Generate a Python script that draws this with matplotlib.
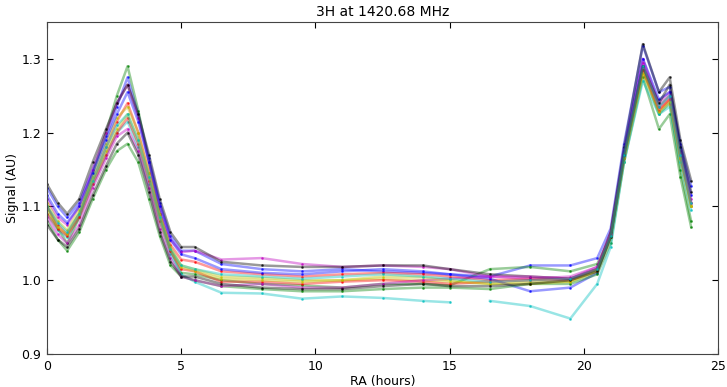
import numpy as np
import matplotlib
matplotlib.use("Agg")
import matplotlib.pyplot as plt

nan = np.nan
ra = [0.0, 0.4, 0.75, 1.2, 1.7, 2.2, 2.6, 3.0, 3.4, 3.8, 4.2, 4.6, 5.0, 5.5, 6.5, 8.0,
      9.5, 11.0, 12.5, 14.0, 15.0, 16.5, 18.0, 19.5, 20.5, 21.0, 21.5, 22.2, 22.8, 23.2, 23.6, 24.0]

s_b1 = [1.125,1.100,1.085,1.105,1.150,1.195,1.235,1.275,1.225,1.165,1.105,1.060,1.040,1.040,1.022,1.015,1.012,1.015,1.012,1.010,1.008,1.005,1.020,1.020,1.030,1.070,1.185,1.318,1.255,1.262,1.185,1.128]
s_g1 = [1.100,1.070,1.050,1.085,1.145,1.200,1.250,1.290,1.230,1.160,1.090,1.040,1.010,1.008,1.000,0.995,0.993,0.990,0.995,0.995,0.993,1.015,1.018,1.012,1.022,1.060,1.165,1.285,1.225,1.240,1.150,1.080]
s_r1 = [1.100,1.075,1.062,1.090,1.135,1.180,1.215,1.240,1.200,1.145,1.090,1.048,1.028,1.025,1.012,1.008,1.005,1.008,1.010,1.008,1.005,1.000,1.002,1.000,1.015,1.060,1.170,1.290,1.230,1.245,1.170,1.100]
s_c1 = [1.090,1.068,1.058,1.085,1.130,1.170,1.200,1.215,1.180,1.130,1.080,1.035,1.008,0.998,0.983,0.982,0.975,0.978,0.976,0.972,0.970,nan,nan,nan,nan,nan,nan,nan,nan,nan,nan,nan]
s_m1 = [1.110,1.085,1.075,1.100,1.150,1.200,1.240,1.265,1.220,1.160,1.100,1.055,1.038,1.040,1.028,1.030,1.022,1.018,1.020,1.018,1.015,1.005,1.002,1.005,1.018,1.065,1.175,1.300,1.240,1.255,1.175,1.110]
s_y1 = [1.105,1.080,1.068,1.095,1.140,1.185,1.220,1.235,1.200,1.145,1.090,1.045,1.020,1.015,1.005,1.003,1.000,1.000,1.002,1.000,0.998,0.995,0.998,0.998,1.012,1.060,1.170,1.285,1.235,1.250,1.170,1.100]
s_k1 = [1.130,1.105,1.090,1.110,1.160,1.205,1.240,1.265,1.225,1.170,1.110,1.065,1.045,1.045,1.025,1.020,1.018,1.018,1.020,1.020,1.015,1.008,1.005,1.002,1.015,1.065,1.180,1.320,1.255,1.275,1.190,1.135]
s_b2 = [1.115,1.090,1.078,1.100,1.145,1.190,1.225,1.255,1.215,1.160,1.100,1.055,1.035,1.030,1.015,1.010,1.008,1.012,1.015,1.012,1.008,1.002,0.985,0.990,1.010,1.060,1.175,1.300,1.245,1.255,1.180,1.115]
s_g2 = [1.080,1.055,1.040,1.065,1.110,1.150,1.175,1.185,1.160,1.110,1.060,1.020,1.005,1.000,0.992,0.988,0.985,0.985,0.988,0.990,0.990,0.988,0.995,0.995,1.008,1.050,1.160,1.275,1.205,1.225,1.140,1.072]
s_r2 = [1.090,1.070,1.060,1.085,1.130,1.170,1.200,1.220,1.185,1.135,1.080,1.040,1.015,1.012,0.998,0.998,0.995,0.998,1.000,0.998,0.995,0.998,1.000,1.002,1.015,1.060,1.165,1.285,1.230,1.245,1.165,1.105]
s_c2 = [nan]*21 + [0.972,0.965,0.948,0.995,1.045,1.160,1.270,1.225,1.235,1.160,1.095]
s_m2 = [1.085,1.062,1.050,1.075,1.125,1.165,1.195,1.205,1.175,1.125,1.070,1.030,1.005,1.000,0.992,0.995,0.990,0.990,0.995,1.000,1.002,1.005,1.005,1.002,1.018,1.062,1.170,1.295,1.235,1.250,1.170,1.105]
s_y2 = [1.095,1.072,1.062,1.090,1.135,1.175,1.205,1.225,1.190,1.140,1.085,1.042,1.018,1.012,1.002,1.000,0.998,1.000,1.005,1.004,1.000,0.995,0.995,0.998,1.012,1.058,1.165,1.280,1.228,1.242,1.165,1.100]
s_k2 = [1.075,1.055,1.045,1.070,1.115,1.155,1.185,1.200,1.170,1.120,1.065,1.025,1.005,1.005,0.995,0.990,0.988,0.988,0.992,0.995,0.992,0.992,0.995,1.000,1.012,1.058,1.170,1.290,1.240,1.265,1.180,1.120]
s_c3 = [1.100,1.078,1.065,1.090,1.135,1.180,1.210,1.225,1.190,1.140,1.085,1.042,1.020,1.015,1.008,1.005,1.002,1.005,1.008,1.005,1.002,0.998,1.000,1.002,1.015,1.060,1.170,1.290,1.235,1.250,1.170,1.105]

series = [(s_b1, 'b'), (s_g1, 'g'), (s_r1, 'r'), (s_c1, 'c'), (s_m1, 'm'), (s_y1, 'y'), (s_k1, 'k'),
          (s_b2, 'b'), (s_g2, 'g'), (s_r2, 'r'), (s_c2, 'c'), (s_m2, 'm'), (s_y2, 'y'), (s_k2, 'k'),
          (s_c3, 'c')]

fig = plt.figure(figsize=(7.27, 3.87), dpi=100)
ax = fig.add_axes([0.0647, 0.0853, 0.9229, 0.8579])
for vals, col in series:
    ax.plot(ra, vals, color=col, lw=1.8, alpha=0.4, ls='-')
    ax.plot(ra, vals, color=col, lw=0, alpha=0.6, marker='.', ms=2)

ax.set_xlim(0, 25)
ax.set_ylim(0.9, 1.35)
ax.set_xticks([0, 5, 10, 15, 20, 25])
ax.set_yticks([0.9, 1.0, 1.1, 1.2, 1.3])
ax.tick_params(direction='in', top=True, right=True, labelsize=9, length=4, width=0.8, pad=4)
for sp in ax.spines.values():
    sp.set_color('#444444')
ax.set_xlabel('RA (hours)', fontsize=9, labelpad=2)
ax.set_ylabel('Signal (AU)', fontsize=9, labelpad=2)
ax.set_title('3H at 1420.68 MHz', fontsize=10, pad=4)
fig.savefig('out.png', dpi=100, facecolor='white')
